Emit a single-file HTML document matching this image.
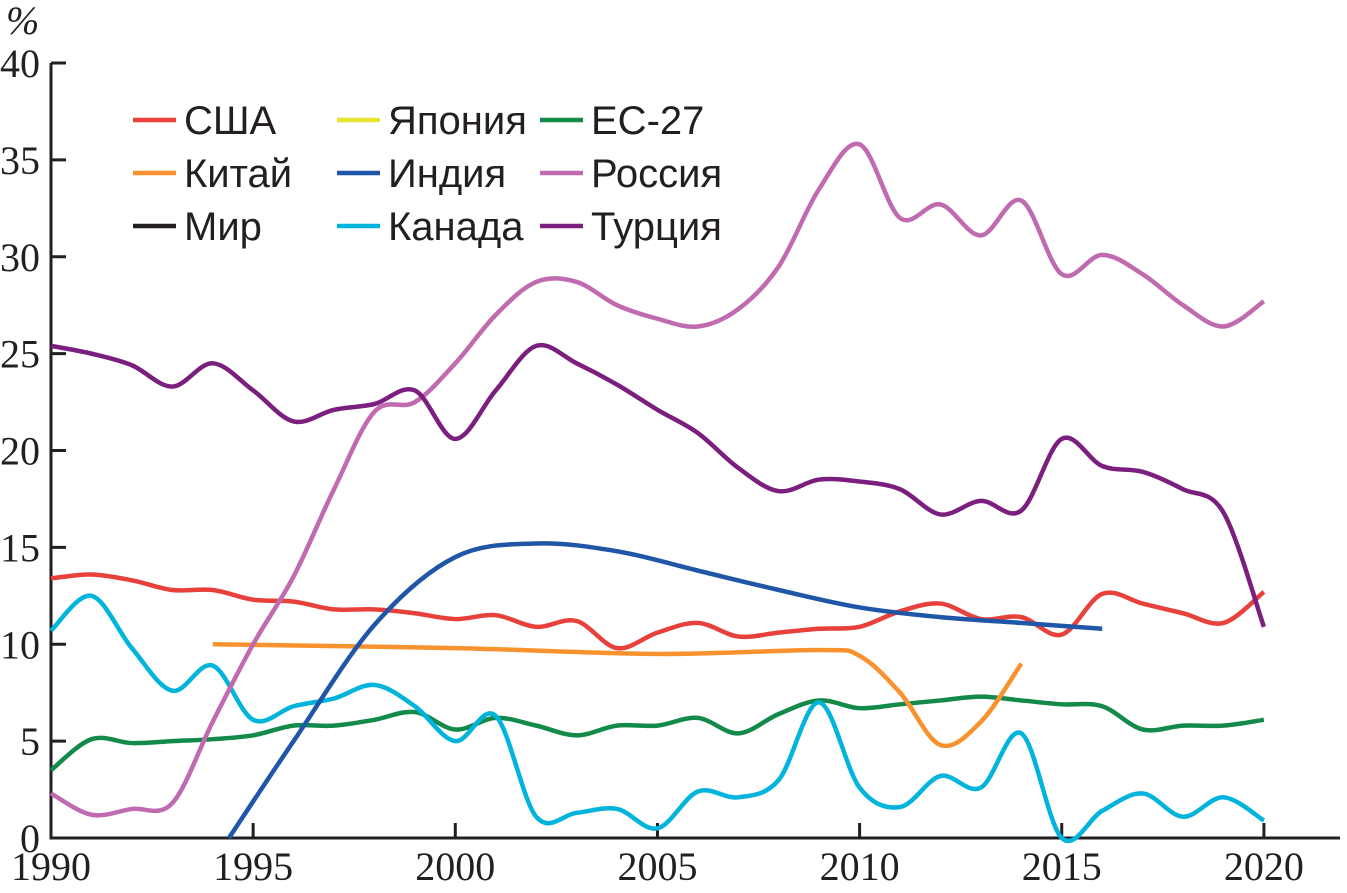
<!DOCTYPE html>
<html><head><meta charset="utf-8"><style>
body{margin:0;background:#fff}
svg{display:block}
.t{font-family:"Liberation Serif",serif;font-size:40px;fill:#231f20}
.l{font-family:"Liberation Sans",sans-serif;font-size:40px;fill:#231f20}
</style></head><body>
<svg id="c" width="1347" height="893" xmlns="http://www.w3.org/2000/svg"></svg>
<script>
const yearsFull=[1990,1991,1992,1993,1994,1995,1996,1997,1998,1999,2000,2001,2002,2003,2004,2005,2006,2007,2008,2009,2010,2011,2012,2013,2014,2015,2016,2017,2018,2019,2020];
const usa=[13.4,13.6,13.3,12.8,12.8,12.3,12.2,11.8,11.8,11.6,11.3,11.5,10.9,11.2,9.8,10.6,11.1,10.4,10.6,10.8,10.9,11.7,12.1,11.3,11.4,10.5,12.6,12.1,11.6,11.1,12.7];
const chinaYears=[1994,2000,2005,2009,2010,2011,2012,2013,2014];
const china=[10.0,9.8,9.5,9.7,9.4,7.5,4.8,6.0,9.0];
const indiaYears=[1994.4,1996,1998,2000,2002,2004,2006,2008,2010,2012,2014,2016];
const india=[0,5,11,14.5,15.2,14.8,13.8,12.8,11.9,11.4,11.1,10.8];
const russia=[2.3,1.2,1.5,1.8,6,10,13.5,18,22,22.5,24.5,27,28.7,28.7,27.5,26.8,26.4,27.3,29.5,33.5,35.8,32,32.7,31.1,32.9,29.1,30.1,29.1,27.5,26.4,27.7];
const turkey=[25.4,25,24.4,23.3,24.5,23.1,21.5,22.1,22.4,23.1,20.6,23.1,25.4,24.5,23.4,22.1,20.9,19.1,17.9,18.5,18.4,18.0,16.7,17.4,16.9,20.6,19.2,18.9,18.0,16.8,10.9];
const canada=[10.7,12.5,9.8,7.6,8.9,6.1,6.8,7.2,7.9,6.8,5.0,6.3,1.1,1.3,1.5,0.5,2.4,2.1,3.0,7.0,2.6,1.6,3.2,2.6,5.4,0.0,1.4,2.3,1.1,2.1,0.9];
const eu=[3.5,5.1,4.9,5.0,5.1,5.3,5.8,5.8,6.1,6.5,5.6,6.2,5.8,5.3,5.8,5.8,6.2,5.4,6.4,7.1,6.7,6.9,7.1,7.3,7.1,6.9,6.8,5.6,5.8,5.8,6.1];
const xTicks=[1990,1995,2000,2005,2010,2015,2020];
const yTicks=[0,5,10,15,20,25,30,35,40];
const legendNames=["США","Китай","Мир","Япония","Индия","Канада","ЕС-27","Россия","Турция"];
const legendColors=["#e8413c","#f7922e","#231f20","#e6e632","#1f56a8","#00b4dc","#138a4a","#c06ab0","#7b1f7f"];

const NS="http://www.w3.org/2000/svg";
const svg=document.getElementById('c');
const X=y=>51+(y-1990)*40.43;
const Y=v=>838-v*19.375;
function mk(t,a){const e=document.createElementNS(NS,t);for(const k in a)e.setAttribute(k,a[k]);svg.appendChild(e);return e;}
function path(xs,vs){const p=xs.map((x,i)=>[X(x),Y(vs[i])]);let d=`M${p[0][0]},${p[0][1]}`;
for(let i=0;i<p.length-1;i++){const p0=p[i-1]||p[i],p1=p[i],p2=p[i+1],p3=p[i+2]||p2;
d+=` C${p1[0]+(p2[0]-p0[0])/6},${p1[1]+(p2[1]-p0[1])/6} ${p2[0]-(p3[0]-p1[0])/6},${p2[1]-(p3[1]-p1[1])/6} ${p2[0]},${p2[1]}`;}return d;}
let e=mk('path',{d:`M51,63V838H1340`,stroke:'#231f20','stroke-width':3,fill:'none'});


yTicks.forEach(v=>{let t=mk('line',{x1:51,x2:66,y1:Y(v),y2:Y(v),stroke:'#231f20','stroke-width':3});


let l=mk('text',{x:40,y:Y(v)+14,'text-anchor':'end',class:'t'});l.textContent=v;

});
xTicks.forEach(v=>{let t=mk('line',{x1:X(v),x2:X(v),y1:838,y2:823,stroke:'#231f20','stroke-width':3});


let l=mk('text',{x:X(v),y:880,'text-anchor':'middle',class:'t'});l.textContent=v;

});
let u=mk('text',{x:6,y:34,class:'t','font-style':'italic'});u.textContent='%';


const series=[[yearsFull,eu,6,'eu-line'],[yearsFull,canada,5,'canada-line'],[chinaYears,china,1,'china-line'],[yearsFull,usa,0,'usa-line'],[indiaYears,india,4,'india-line'],[yearsFull,russia,7,'russia-line'],[yearsFull,turkey,8,'turkey-line']];
series.forEach(s=>{let p=mk('path',{d:path(s[0],s[1]),stroke:legendColors[s[2]],'stroke-width':4.5,fill:'none'});

});
const colX=[133,337,540],rowY=[120,173,226];
legendNames.forEach((n,i)=>{const c=Math.floor(i/3),r=i%3;
let ln=mk('line',{x1:colX[c],x2:colX[c]+43,y1:rowY[r],y2:rowY[r],stroke:legendColors[i],'stroke-width':4.5});


let t=mk('text',{x:colX[c]+51,y:rowY[r]+14,class:'l'});t.textContent=n;

});
</script>
</body></html>
